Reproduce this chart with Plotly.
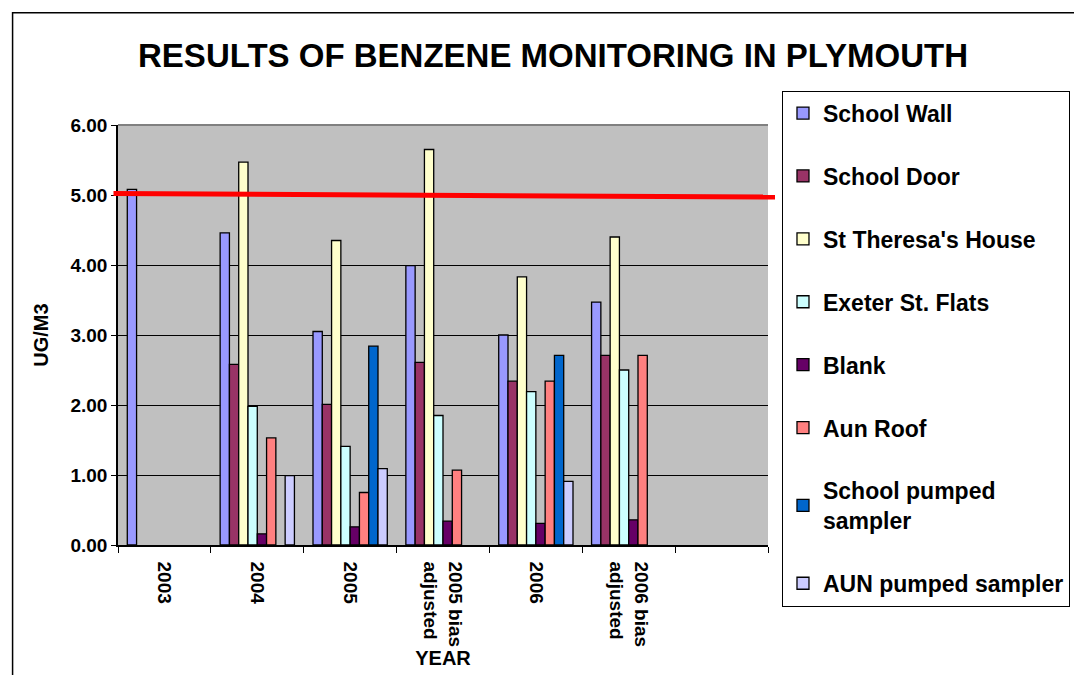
import plotly.graph_objects as go

categories = ["2003", "2004", "2005", "2005 bias<br>adjusted", "2006", "2006 bias<br>adjusted", " "]

school_wall = [5.08, 4.46, 3.05, 3.99, 3.00, 3.47, None]
school_door = [None, 2.58, 2.01, 2.61, 2.34, 2.71, None]
st_theresa = [None, 5.47, 4.35, 5.65, 3.83, 4.40, None]
exeter_flats = [None, 1.98, 1.41, 1.85, 2.19, 2.50, None]
blank = [None, 0.16, 0.26, 0.34, 0.31, 0.36, None]
aun_roof = [None, 1.53, 0.75, 1.07, 2.34, 2.71, None]
school_pumped = [None, None, 2.84, None, 2.71, None, None]
aun_pumped = [None, 0.99, 1.09, None, 0.91, None, None]

series_names = ["School Wall", "School Door", "St Theresa's House", "Exeter St. Flats",
                "Blank", "Aun Roof", "School pumped<br>sampler", "AUN pumped sampler"]
series_values = [school_wall, school_door, st_theresa, exeter_flats,
                 blank, aun_roof, school_pumped, aun_pumped]
series_colors = ["#9999FF", "#993366", "#FFFFCC", "#CCFFFF",
                 "#660066", "#FF8080", "#0066CC", "#CCCCFF"]

limit_line = [5.02, 4.97]  # drawn limit line (start, end)
y_ticks = [0, 1, 2, 3, 4, 5, 6]

FONT = "Liberation Sans, Arial, sans-serif"

fig = go.Figure()
for i, (name, vals, col) in enumerate(zip(series_names, series_values, series_colors)):
    fig.add_trace(go.Bar(
        x=categories, y=vals, name=name,
        marker=dict(color=col, line=dict(color="black", width=1.3)),
        legendgroup=f"g{i}",
    ))

# page offset of the figure inside the browser page
OFF = 8
W, H = 1082 - OFF, 675 - OFF
# plot area in screenshot pixels
PL, PR, PT, PB = 117.5, 768, 124.5, 545.5
L, T = PL - OFF, PT - OFF
R, B = W - (PR - OFF), H - (PB - OFF)
pw, ph = PR - PL, PB - PT

def px_x(px):
    return (px - PL) / pw

def px_y(py):
    return (PB - py) / ph

def f(size):
    return dict(size=size, family=FONT, color="black", weight="bold")

fig.update_layout(
    width=W, height=H,
    margin=dict(l=L, r=R, t=T, b=B, autoexpand=False),
    paper_bgcolor="white",
    plot_bgcolor="#C0C0C0",
    barmode="group",
    bargap=0.2,
    bargroupgap=0,
    font=f(18),
    title=dict(text="RESULTS OF BENZENE MONITORING IN PLYMOUTH",
               x=(553 - OFF) / W, xref="container", xanchor="center",
               y=1 - (55 - OFF) / H, yref="container", yanchor="middle",
               font=f(33)),
    xaxis=dict(
        categoryorder="array", categoryarray=categories,
        range=[-0.5, len(categories) - 0.5],
        tickangle=90,
        tickson="boundaries",
        ticks="outside", ticklen=6, tickcolor="black",
        showline=True, linecolor="black", linewidth=1.5,
        tickfont=f(19),
        ticklabelstandoff=11,
        title=dict(text="YEAR", font=f(20), standoff=2),
        showgrid=False,
    ),
    yaxis=dict(
        range=[0, 6],
        tickvals=y_ticks,
        ticktext=[f"{v:.2f}" for v in y_ticks],
        ticks="outside", ticklen=5, tickcolor="black",
        showline=True, linecolor="black", linewidth=1.5,
        showgrid=True, gridcolor="black", gridwidth=1,
        tickfont=f(19),
        title=dict(text="UG/M3", font=f(20), standoff=16),
        zeroline=False,
    ),
    legend=dict(
        x=px_x(782), y=px_y(90), xanchor="left", yanchor="top",
        bordercolor="black", borderwidth=1, bgcolor="white",
        font=f(23),
        traceorder="grouped", tracegroupgap=30,
        itemwidth=30,
        maxheight=620,
    ),
    showlegend=True,
)

# limit line at 5 ug/m3
fig.add_shape(type="line", xref="paper", yref="y",
              x0=px_x(113), x1=px_x(775), y0=limit_line[0], y1=limit_line[1],
              line=dict(color="#FF0000", width=5), layer="above")

# plot area top border
fig.add_shape(type="line", xref="paper", yref="paper", x0=0, x1=1, y0=1, y1=1,
              line=dict(color="#808080", width=2))

# outer chart frame
fig.add_shape(type="rect", xref="paper", yref="paper",
              x0=px_x(12), x1=px_x(1200), y0=px_y(800), y1=px_y(12),
              line=dict(color="black", width=1.5), layer="below")

fig.write_html("out.html")
